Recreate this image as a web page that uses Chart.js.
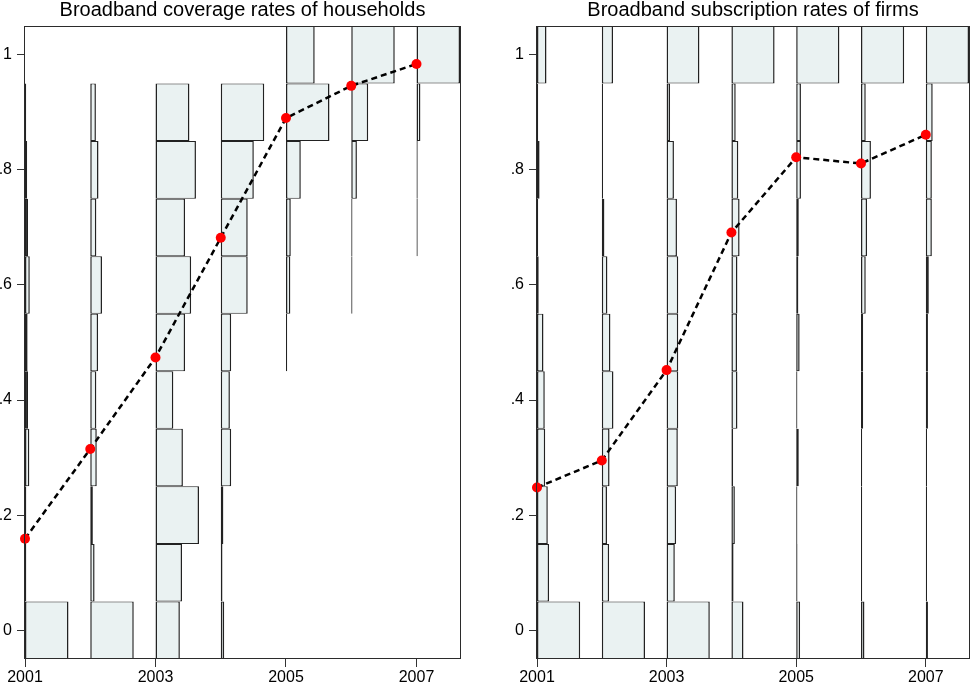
<!DOCTYPE html>
<html lang="en">
<head>
<meta charset="UTF-8">
<title>Broadband coverage and subscription rates</title>
<script src="https://cdn.jsdelivr.net/npm/chart.js"></script>
<style>
  html, body { margin: 0; padding: 0; background: #fff; }
  .panels { display: flex; width: 974px; height: 689px; }
  .panel { width: 487px; height: 689px; }
  canvas { display: block; }
</style>
</head>
<body>
<div class="panels">
  <div class="panel"><canvas id="householdChart" width="487" height="689"></canvas></div>
  <div class="panel"><canvas id="firmChart" width="487" height="689"></canvas></div>
</div>
<script>
const years = [2001, 2002, 2003, 2004, 2005, 2006, 2007];
const bins = [0, 0.1, 0.2, 0.3, 0.4, 0.5, 0.6, 0.7, 0.8, 0.9, 1];
const xTicks = [2001, 2003, 2005, 2007];
const yTicks = [0, 0.2, 0.4, 0.6, 0.8, 1];
const yTickLabels = ['0', '.2', '.4', '.6', '.8', '1'];

// histogram bar length per bin (bins above), relative to the longest bin of that year
const householdBars = [
    [1.00, 0.03, 0.03, 0.10, 0.07, 0.06, 0.11, 0.07, 0.05, 0.01, 0],
    [1.00, 0.10, 0.06, 0.15, 0.14, 0.18, 0.27, 0.14, 0.19, 0.13, 0],
    [0.56, 0.61, 1.00, 0.63, 0.41, 0.68, 0.82, 0.68, 0.93, 0.78, 0],
    [0.08, 0.04, 0.06, 0.24, 0.21, 0.24, 0.62, 0.62, 0.76, 1.00, 0],
    [0, 0, 0, 0, 0, 0.01, 0.10, 0.11, 0.34, 1.00, 0.66],
    [0, 0, 0, 0, 0, 0, 0.01, 0.02, 0.13, 0.39, 1.00],
    [0, 0, 0, 0, 0, 0, 0, 0.01, 0.02, 0.09, 1.00]
];
const householdMeans = [0.159, 0.315, 0.474, 0.682, 0.890, 0.946, 0.984];

const firmBars = [
    [1.00, 0.28, 0.25, 0.19, 0.18, 0.15, 0.04, 0.02, 0.06, 0.02, 0.22],
    [1.00, 0.17, 0.12, 0.18, 0.27, 0.20, 0.13, 0.06, 0.03, 0.02, 0.26],
    [1.00, 0.19, 0.22, 0.26, 0.27, 0.27, 0.27, 0.24, 0.17, 0.08, 0.76],
    [0.28, 0.05, 0.08, 0.04, 0.14, 0.13, 0.14, 0.19, 0.16, 0.10, 1.00],
    [0.09, 0.03, 0.01, 0.06, 0.01, 0.08, 0.05, 0.06, 0.11, 0.11, 1.00],
    [0.08, 0.02, 0.02, 0.02, 0.05, 0.05, 0.11, 0.14, 0.23, 0.11, 1.00],
    [0.05, 0.01, 0.01, 0.01, 0.05, 0.05, 0.07, 0.14, 0.14, 0.16, 1.00]
];
const firmMeans = [0.248, 0.295, 0.452, 0.691, 0.822, 0.811, 0.861];

// longest bin of each year spans this much of the x axis (in years)
const maxBarYears = 2 / 3;

Chart.defaults.font.family = "'Liberation Sans', Arial, sans-serif";
Chart.defaults.color = '#000';

// box round the plot region
const frame = {
    id: 'frame',
    afterDatasetsDraw(chart) {
        const a = chart.chartArea;
        const ctx = chart.ctx;
        ctx.save();
        ctx.strokeStyle = '#2b2b2b';
        ctx.lineWidth = 1;
        ctx.strokeRect(Math.round(a.left) - 0.5, Math.round(a.top) + 0.5,
            Math.round(a.right - a.left) + 1, Math.round(a.bottom - a.top) - 1);
        ctx.restore();
    }
};

function createChart(canvasId, title, bars, means, padLeft, padRight) {
    const barData = [];
    years.forEach((yr, i) => {
        bars[i].forEach((share, j) => {
            if (share > 0) barData.push({ y: bins[j], x: [yr, yr + share * maxBarYears] });
        });
    });

    new Chart(document.getElementById(canvasId), {
        type: 'bar',
        data: {
            datasets: [
                {
                    type: 'line',
                    indexAxis: 'x',
                    data: years.map((yr, i) => ({ x: yr, y: means[i] })),
                    borderColor: '#000',
                    borderWidth: 2.5,
                    borderDash: [6, 4],
                    tension: 0,
                    pointRadius: 5,
                    pointBackgroundColor: '#ff0000',
                    pointBorderColor: '#ff0000',
                    pointBorderWidth: 0,
                    clip: false,
                    order: 0
                },
                {
                    indexAxis: 'y',
                    data: barData,
                    backgroundColor: '#eaf2f2',
                    borderColor: '#222',
                    borderWidth: { left: 1.5, right: 1.5, top: 1, bottom: 1 },
                    borderSkipped: false,
                    minBarLength: 1.2,
                    barPercentage: 1,
                    categoryPercentage: 1,
                    inflateAmount: 0,
                    order: 1
                }
            ]
        },
        options: {
            responsive: false,
            animation: false,
            layout: { padding: { left: padLeft, right: padRight, top: 0, bottom: 0 } },
            plugins: {
                legend: { display: false },
                tooltip: { enabled: false },
                title: {
                    display: true,
                    fullSize: false,
                    text: title,
                    color: '#000',
                    font: { size: 20, weight: 'normal', lineHeight: 1 },
                    padding: { top: 0, bottom: 6 }
                }
            },
            scales: {
                x: {
                    type: 'linear',
                    min: years[0],
                    max: years[years.length - 1] + maxBarYears,
                    offset: false,
                    grid: { drawOnChartArea: false, drawTicks: true, tickLength: 8, color: '#333', offset: false },
                    border: { display: false },
                    ticks: { font: { size: 16 }, padding: 1, maxRotation: 0, autoSkip: false, callback: v => String(v) },
                    afterBuildTicks: s => { s.ticks = xTicks.map(v => ({ value: v })); },
                    afterFit: s => { s.height = 30; }
                },
                y: {
                    type: 'linear',
                    min: -0.05,
                    max: 1.05,
                    beginAtZero: false,
                    offset: false,
                    grid: { drawOnChartArea: false, drawTicks: true, tickLength: 8, color: '#333', offset: false },
                    border: { display: false },
                    ticks: { font: { size: 16 }, padding: 5, callback: v => yTickLabels[yTicks.indexOf(v)] },
                    afterBuildTicks: s => { s.ticks = yTicks.map(v => ({ value: v })); },
                    afterFit: s => { s.width = 25; }
                }
            }
        },
        plugins: [frame]
    });
}

createChart('householdChart', 'Broadband coverage rates of households', householdBars, householdMeans, 0, 27);
createChart('firmChart', 'Broadband subscription rates of firms', firmBars, firmMeans, 25, 3);
</script>
</body>
</html>
